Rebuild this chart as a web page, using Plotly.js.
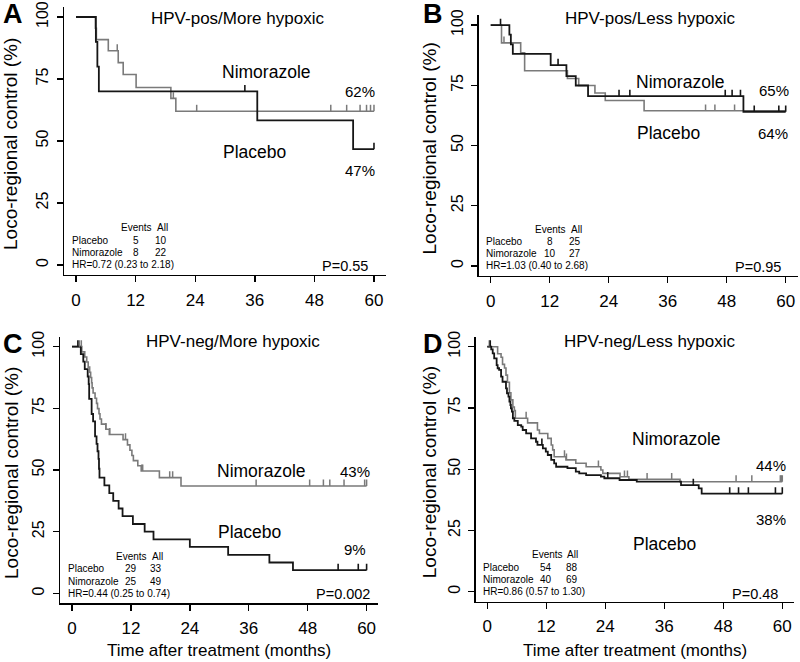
<!DOCTYPE html>
<html>
<head>
<meta charset="utf-8">
<script src="https://cdn.plot.ly/plotly-3.0.1.min.js"></script>
<style>
html,body{margin:0;padding:0;background:#fff;}
#chart{width:800px;height:662px;}
</style>
</head>
<body>
<div id="chart"></div>
<script>
// ---------------- DATA ----------------
const panelLetters = ['A', 'B', 'C', 'D'];
const panelTitles = ['HPV-pos/More hypoxic', 'HPV-pos/Less hypoxic', 'HPV-neg/More hypoxic', 'HPV-neg/Less hypoxic'];
const xTicks = [0, 12, 24, 36, 48, 60];
const yTicks = [0, 25, 50, 75, 100];
const groupNames = ['Placebo', 'Nimorazole'];
const eventsPlacebo = [5, 8, 29, 54];
const allPlacebo = [10, 25, 33, 88];
const eventsNimo = [8, 10, 25, 40];
const allNimo = [22, 27, 49, 69];
const hrText = ['HR=0.72 (0.23 to 2.18)', 'HR=1.03 (0.40 to 2.68)', 'HR=0.44 (0.25 to 0.74)', 'HR=0.86 (0.57 to 1.30)'];
const pText = ['P=0.55', 'P=0.95', 'P=0.002', 'P=0.48'];
const pctNimo = ['62%', '65%', '43%', '44%'];
const pctPlac = ['47%', '64%', '9%', '38%'];

// Panel A
const A_plac_t = [0, 4.0, 4.3, 4.6, 36.5, 55.8, 60];
const A_plac_s = [100, 90, 80, 70, 58.3, 46.7, 46.7];
const A_plac_c = [34.0, 60];
const A_nim_t = [0, 3.9, 4.1, 6.5, 8.5, 9.5, 12.1, 19.1, 20.1, 60];
const A_nim_s = [100, 95.5, 90.9, 86.4, 81.6, 76.8, 71.6, 67.2, 62.0, 62.0];
const A_nim_c = [8.3, 19.6, 24.3, 51.3, 54.5, 57.2, 58.5, 59.3, 60];

// Panel B
const B_plac_t = [0, 3.8, 4.1, 4.5, 12.2, 15.4, 17.3, 19.8, 51.4, 60];
const B_plac_s = [100, 96.0, 92.0, 88.0, 83.4, 78.8, 74.9, 70.5, 64.0, 64.0];
const B_plac_c = [2.0, 13.7, 26.1, 28.3, 47.7, 49.1, 50.8, 53.6, 58.6, 60];
const B_nim_t = [0, 2.2, 6.1, 6.9, 15.6, 17.9, 21.2, 23.3, 31.2, 60];
const B_nim_s = [100, 92.6, 88.5, 81.0, 77.8, 74.9, 71.8, 68.7, 64.4, 64.4];
const B_nim_c = [2.7, 43.7, 45.6, 49.6];

// Panel C
const C_plac_t = [0, 1.8, 2.3, 2.6, 3.2, 3.4, 3.5, 4.0, 4.3, 4.7, 5.0, 5.2, 5.4, 5.5, 5.6, 6.6, 7.6, 8.4, 9.5, 10.3, 12.4, 14.8, 16.6, 24.0, 31.8, 40.2, 45.0, 60];
const C_plac_s = [100, 97.0, 93.9, 90.9, 87.9, 84.8, 78.8, 72.7, 69.7, 63.6, 60.6, 57.6, 54.5, 50.5, 46.9, 43.8, 40.6, 37.5, 34.4, 31.3, 28.1, 25.0, 21.9, 18.8, 15.6, 12.5, 9.4, 9.4];
const C_plac_c = [1.2, 54.2, 58.3, 60];
const C_nim_t = [0, 2.0, 2.6, 3.0, 3.3, 3.6, 3.8, 4.0, 4.1, 4.3, 4.7, 5.0, 5.2, 5.5, 5.7, 6.0, 6.9, 7.6, 10.4, 11.3, 11.8, 12.2, 12.5, 13.4, 14.1, 17.8, 22.2, 60];
const C_nim_s = [100, 97.9, 95.8, 93.8, 91.7, 89.6, 87.5, 85.4, 83.3, 81.2, 79.1, 77.0, 74.9, 72.8, 70.7, 68.6, 66.5, 64.4, 62.3, 60.2, 58.0, 55.9, 53.8, 51.7, 49.6, 46.9, 43.5, 43.5];
const C_nim_c = [1.5, 1.9, 6.9, 7.7, 10.9, 14.2, 14.4, 19.9, 20.5, 37.5, 48.4, 51.2, 52.5, 55.4, 59.6, 60];

// Panel D
const D_plac_t = [0, 0.8, 1.1, 1.4, 1.9, 2.1, 2.4, 2.8, 3.1, 3.8, 4.0, 4.3, 4.5, 4.7, 4.8, 5.0, 5.2, 5.5, 6.2, 6.9, 7.2, 7.9, 8.9, 9.9, 10.2, 11.3, 11.9, 12.3, 13.0, 13.6, 14.0, 16.3, 18.0, 18.7, 20.1, 23.1, 23.8, 26.9, 30.4, 39.4, 43.0, 43.6, 60];
const D_plac_s = [100, 98.9, 97.3, 95.2, 92.5, 91.2, 90.5, 87.8, 85.7, 83.0, 81.0, 79.6, 77.6, 76.2, 74.8, 73.5, 70.8, 69.7, 68.0, 67.4, 66.0, 64.6, 62.6, 61.2, 59.9, 58.5, 57.2, 55.8, 53.8, 52.4, 51.0, 50.4, 49.0, 48.3, 47.6, 47.0, 46.3, 45.6, 44.9, 43.5, 42.2, 40.0, 40.0];
const D_plac_c = [0.6, 11.1, 24.5, 41.9, 49.3, 51.1, 53.1, 58.6, 60];
const D_nim_t = [0, 2.1, 2.8, 3.1, 3.5, 3.8, 4.1, 4.5, 4.8, 5.2, 5.5, 5.7, 8.2, 10.2, 10.6, 12.3, 13.0, 13.3, 13.6, 16.0, 18.0, 20.1, 23.1, 23.5, 27.0, 28.8, 39.2, 60];
const D_nim_s = [100, 97.1, 95.7, 92.8, 91.3, 88.4, 85.5, 81.2, 78.3, 75.4, 73.9, 70.8, 68.9, 66.0, 64.6, 62.6, 59.9, 57.9, 55.1, 53.8, 52.4, 51.0, 49.7, 48.3, 46.9, 45.9, 44.9, 44.9];
const D_nim_c = [0.4, 7.9, 15.7, 16.1, 22.6, 27.9, 28.5, 32.5, 37.5, 50.6, 53.8, 59.6, 59.8, 60];

// ---------------- STYLE / LAYOUT ----------------
const FONT = 'Liberation Sans, Arial, Helvetica, sans-serif';
const TXT = '#000';
const COL_PLAC = '#161616';
const COL_NIM = '#7a7a7a';
const W = 800, H = 662;
// panel frames in px: [left, right, top, bottom]
const frames = [[64.1, 385.9, 7.1, 274.9], [478.9, 797.5, 15.4, 275.6], [60.2, 378.4, 336.8, 603.2], [475.5, 794.1, 336.9, 601.5]];

const curves = [
  {pt: A_plac_t, ps: A_plac_s, pc: A_plac_c, nt: A_nim_t, ns: A_nim_s, nc: A_nim_c},
  {pt: B_plac_t, ps: B_plac_s, pc: B_plac_c, nt: B_nim_t, ns: B_nim_s, nc: B_nim_c},
  {pt: C_plac_t, ps: C_plac_s, pc: C_plac_c, nt: C_nim_t, ns: C_nim_s, nc: C_nim_c},
  {pt: D_plac_t, ps: D_plac_s, pc: D_plac_c, nt: D_nim_t, ns: D_nim_s, nc: D_nim_c}
];

// label placements (data coords of each panel)
const posTitle = [[32.6, 99.6], [32.4, 102.8], [32.8, 102.0], [33.1, 102.0]];
const posNimLab = [[38.4, 77.9], [38.6, 76.5], [38.6, 49.7], [38.5, 62.2]];
const posPlacLab = [[36.0, 45.7], [36.1, 55.1], [36.1, 25.0], [36.1, 19.5]];
const posNimPct = [[57.1, 69.9], [57.6, 72.7], [57.7, 49.3], [57.8, 51.4]];
const posPlacPct = [[57.2, 38.3], [57.5, 55.1], [57.6, 17.6], [57.8, 29.5]];
const posP = [[54.2, -0.3], [54.3, -0.3], [55.1, -0.3], [54.4, -1.0]];

function survAt(t, times, surv) {
  let s = surv[0];
  for (let i = 0; i < times.length; i++) { if (times[i] <= t) s = surv[i]; }
  return s;
}
function censorSeg(ct, times, surv) {
  const x = [], y = [];
  ct.forEach(t => { const s = survAt(t, times, surv); x.push(t, t, null); y.push(s, s + 2.6, null); });
  return {x, y};
}

const traces = [];
const layout = {
  width: W, height: H,
  margin: {l: 0, r: 0, t: 0, b: 0},
  paper_bgcolor: '#fff', plot_bgcolor: 'rgba(0,0,0,0)',
  showlegend: false,
  font: {family: FONT, color: TXT},
  annotations: []
};

frames.forEach((f, i) => {
  const n = i + 1;
  const xa = 'xaxis' + (n === 1 ? '' : n), ya = 'yaxis' + (n === 1 ? '' : n);
  const xr = 'x' + (n === 1 ? '' : n), yr = 'y' + (n === 1 ? '' : n);
  layout[xa] = {
    domain: [f[0] / W, f[1] / W], anchor: yr, range: [-2.4, 62.4],
    tickvals: xTicks, ticktext: xTicks.map(String), ticks: 'outside', ticklen: 6, tickwidth: 1.4, tickcolor: '#000',
    showline: true, linewidth: 1.5, linecolor: '#000', showgrid: false, zeroline: false,
    tickfont: {size: 17, family: FONT, color: TXT}, ticklabelstandoff: 3, automargin: false, fixedrange: true
  };
  layout[ya] = {
    domain: [1 - f[3] / H, 1 - f[2] / H], anchor: xr, range: [-4, 104],
    tickvals: yTicks, ticktext: yTicks.map(String), ticks: 'outside', ticklen: 6, tickwidth: 1.4, tickcolor: '#000',
    tickangle: -90, showline: true, linewidth: 1.5, linecolor: '#000', showgrid: false, zeroline: false,
    tickfont: {size: 16, family: FONT, color: TXT}, ticklabelstandoff: 2, automargin: false, fixedrange: true
  };
  const c = curves[i];
  traces.push({x: c.nt, y: c.ns, xaxis: xr, yaxis: yr, type: 'scatter', mode: 'lines', line: {shape: 'hv', color: COL_NIM, width: 1.6}, name: groupNames[1], hoverinfo: 'skip'});
  traces.push({x: c.pt, y: c.ps, xaxis: xr, yaxis: yr, type: 'scatter', mode: 'lines', line: {shape: 'hv', color: COL_PLAC, width: 1.8}, name: groupNames[0], hoverinfo: 'skip'});
  const sn = censorSeg(c.nc, c.nt, c.ns);
  traces.push({x: sn.x, y: sn.y, xaxis: xr, yaxis: yr, type: 'scatter', mode: 'lines', line: {color: COL_NIM, width: 1.5}, hoverinfo: 'skip', connectgaps: false});
  const sp = censorSeg(c.pc, c.pt, c.ps);
  traces.push({x: sp.x, y: sp.y, xaxis: xr, yaxis: yr, type: 'scatter', mode: 'lines', line: {color: COL_PLAC, width: 1.6}, hoverinfo: 'skip', connectgaps: false});

  const A = layout.annotations;
  const txt = (text, x, y, size, opts) => Object.assign({xref: xr, yref: yr, x: x, y: y, text: text, showarrow: false,
    font: {family: FONT, size: size, color: TXT}, xanchor: 'center', yanchor: 'middle'}, opts || {});
  A.push(txt(panelTitles[i], posTitle[i][0], posTitle[i][1], 17));
  A.push(txt(groupNames[1], posNimLab[i][0], posNimLab[i][1], 17.5));
  A.push(txt(groupNames[0], posPlacLab[i][0], posPlacLab[i][1], 17.5));
  A.push(txt(pctNimo[i], posNimPct[i][0], posNimPct[i][1], 15));
  A.push(txt(pctPlac[i], posPlacPct[i][0], posPlacPct[i][1], 15));
  A.push(txt(pText[i], posP[i][0], posP[i][1], 14.5));
  // events table
  const tf = 10;
  A.push(txt('Events', 12.2, 15, tf));
  A.push(txt('All', 17.4, 15, tf));
  A.push(txt(groupNames[0], -1.3, 10, tf, {xanchor: 'left'}));
  A.push(txt(String(eventsPlacebo[i]), 12.0, 10, tf));
  A.push(txt(String(allPlacebo[i]), 17.2, 10, tf));
  A.push(txt(groupNames[1], -1.3, 5, tf, {xanchor: 'left'}));
  A.push(txt(String(eventsNimo[i]), 12.0, 5, tf));
  A.push(txt(String(allNimo[i]), 17.2, 5, tf));
  A.push(txt(hrText[i], -1.3, 0, tf, {xanchor: 'left'}));
  // panel letter
  A.push({xref: 'paper', yref: 'paper', x: (i % 2 === 0 ? 1 : 421) / W, y: 1 - (i < 2 ? 14 : 344) / H, xanchor: 'left', yanchor: 'middle',
    text: '<b>' + panelLetters[i] + '</b>', showarrow: false, font: {family: FONT, size: 27, color: '#000'}});
  // y title
  const ycx = (i % 2 === 0 ? 11 : 429);
  A.push({xref: 'paper', yref: 'paper', x: ycx / W, y: 1 - ((f[2] + f[3]) / 2 + 3) / H, xanchor: 'center', yanchor: 'middle', textangle: -90,
    text: 'Loco-regional control (%)', showarrow: false, font: {family: FONT, size: 19, color: TXT}});
  if (i >= 2) {
    A.push({xref: 'paper', yref: 'paper', x: ((f[0] + f[1]) / 2) / W, y: 1 - 650 / H, xanchor: 'center', yanchor: 'middle',
      text: 'Time after treatment (months)', showarrow: false, font: {family: FONT, size: 17, color: TXT}});
  }
});

Plotly.newPlot('chart', traces, layout, {staticPlot: true, displayModeBar: false});
</script>
</body>
</html>
